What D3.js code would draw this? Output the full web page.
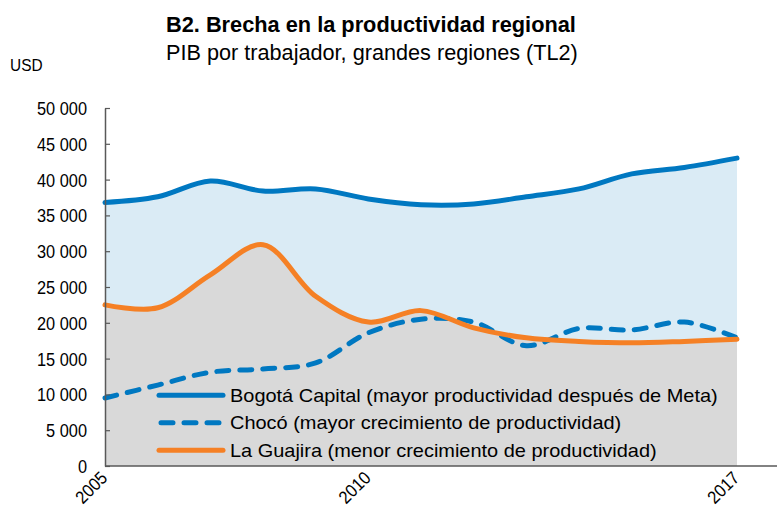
<!DOCTYPE html>
<html>
<head>
<meta charset="utf-8">
<script src="https://cdn.jsdelivr.net/npm/d3@7"></script>
<style>
  body { margin: 0; background: #fff; }
  svg { display: block; }
  text { font-family: "Liberation Sans", Arial, sans-serif; fill: #000; }
</style>
</head>
<body>
<svg id="chart" width="777" height="507"></svg>
<script>
// ---- Data ----
const years = [2005, 2006, 2007, 2008, 2009, 2010, 2011, 2012, 2013, 2014, 2015, 2016, 2017];
const bogota = [36800, 37600, 39800, 38400, 38700, 37300, 36500, 36600, 37600, 38700, 40800, 41700, 43000];
const choco = [9500, 11300, 13100, 13550, 14400, 18600, 20500, 20100, 16800, 19200, 19000, 20100, 17900];
const guajira = [22500, 22100, 26700, 30900, 23700, 20100, 21700, 19300, 17900, 17400, 17200, 17400, 17700];
const seriesNames = [
  "Bogotá Capital (mayor productividad después de Meta)",
  "Chocó (mayor crecimiento de productividad)",
  "La Guajira (menor crecimiento de productividad)"
];
const yTicks = [0, 5000, 10000, 15000, 20000, 25000, 30000, 35000, 40000, 45000, 50000];
const xTickLabels = [2005, 2010, 2017];
const titleText = "B2. Brecha en la productividad regional";
const subtitleText = "PIB por trabajador, grandes regiones (TL2)";
const unitText = "USD";

(function () {
// ---- Layout ----
const W = 777, H = 507;
const mLeft = 105, mRight = 737, mTop = 108, mBottom = 466;
const svg = d3.select("#chart");

const x = d3.scaleLinear().domain([2005, 2017]).range([mLeft, mRight]);
const y = d3.scaleLinear().domain([0, 50000]).range([mBottom, mTop]);

const blue = "#0078c1", orange = "#f58025", lightBlue = "#daebf5", grey = "#d9d9d9", axisCol = "#595959";
const curve = d3.curveCatmullRom.alpha(0.5);

// measure helper for a narrow look (Arial Narrow-like)
function measure(str, size, weight) {
  const t = svg.append("text").attr("font-size", size).attr("font-weight", weight || "normal").text(str);
  const w = t.node().getComputedTextLength();
  t.remove();
  return w;
}
const sxTick = 50 / measure("50 000", 18);
const sxLegend = 488 / measure(seriesNames[0], 19);
const sxTitle = 410 / measure(titleText, 22, "bold");
const sxSub = 412 / measure(subtitleText, 22);

const idx = years.map((d, i) => i);

// areas
svg.append("path")
  .attr("d", d3.area().x(i => x(years[i])).y0(y(0)).y1(i => y(bogota[i])).curve(curve)(idx))
  .attr("fill", lightBlue);
svg.append("path")
  .attr("d", d3.area().x(i => x(years[i])).y0(y(0)).y1(i => y(guajira[i])).curve(curve)(idx))
  .attr("fill", grey);

// lines
function line(arr) {
  return d3.line().x(i => x(years[i])).y(i => y(arr[i])).curve(curve)(idx);
}
svg.append("path").attr("d", line(bogota)).attr("fill", "none")
  .attr("stroke", blue).attr("stroke-width", 5).attr("stroke-linecap", "round");
svg.append("path").attr("d", line(choco)).attr("fill", "none")
  .attr("stroke", blue).attr("stroke-width", 5).attr("stroke-linecap", "round")
  .attr("stroke-dasharray", "12,11");
svg.append("path").attr("d", line(guajira)).attr("fill", "none")
  .attr("stroke", orange).attr("stroke-width", 5).attr("stroke-linecap", "round");

// y axis
const fmt = d3.formatLocale({ decimal: ",", thousands: " ", grouping: [3], currency: ["", ""] }).format(",");
const yAxis = svg.append("g").attr("transform", `translate(${mLeft},0)`)
  .call(d3.axisLeft(y).tickValues(yTicks).tickFormat(fmt).tickSizeInner(-5).tickSizeOuter(0).tickPadding(18));
yAxis.select(".domain").attr("stroke", axisCol).attr("stroke-width", 1.5);
yAxis.selectAll(".tick line").attr("stroke", axisCol).attr("stroke-width", 1.2);
yAxis.selectAll(".tick text")
  .attr("font-size", 18).attr("fill", "#000")
  .style("font-family", '"Liberation Sans", Arial, sans-serif')
  .attr("x", 0).attr("dy", "0.36em")
  .attr("transform", `translate(-18,0) scale(${sxTick},1)`);

// x axis
const xAxis = svg.append("g").attr("transform", `translate(0,${mBottom})`)
  .call(d3.axisBottom(x).tickValues(xTickLabels).tickFormat(d3.format("d")).tickSize(0).tickPadding(0));
xAxis.select(".domain").attr("d", `M${mLeft},0H${W}`).attr("stroke", axisCol).attr("stroke-width", 1.5);
xAxis.selectAll(".tick text")
  .attr("font-size", 18).attr("fill", "#000")
  .style("font-family", '"Liberation Sans", Arial, sans-serif')
  .attr("text-anchor", "end")
  .attr("y", 0).attr("dy", 0)
  .attr("transform", `translate(3,13) rotate(-45) scale(${sxTick},1)`);

// legend
const legendStyles = [
  { stroke: blue, dash: null },
  { stroke: blue, dash: "12,11" },
  { stroke: orange, dash: null }
];
const lg = svg.append("g");
seriesNames.forEach((name, i) => {
  const base = 401.7 + i * 27.5;
  const ly = base - 6.5;
  const l = lg.append("line").attr("x1", 159).attr("x2", 223).attr("y1", ly).attr("y2", ly)
    .attr("stroke", legendStyles[i].stroke).attr("stroke-width", 5).attr("stroke-linecap", "round");
  if (legendStyles[i].dash) l.attr("stroke-dasharray", legendStyles[i].dash).attr("x1", 161);
  lg.append("text").attr("transform", `translate(230,${base}) scale(${sxLegend},1)`)
    .attr("font-size", 19).text(name);
});

// titles
svg.append("text").attr("transform", `translate(166,31.7) scale(${sxTitle},1)`)
  .attr("font-size", 22).attr("font-weight", "bold").text(titleText);
svg.append("text").attr("transform", `translate(166,60) scale(${sxSub},1)`)
  .attr("font-size", 22).text(subtitleText);
svg.append("text").attr("transform", `translate(10,71) scale(${sxTick},1)`)
  .attr("font-size", 17).text(unitText);
})();
</script>
</body>
</html>
